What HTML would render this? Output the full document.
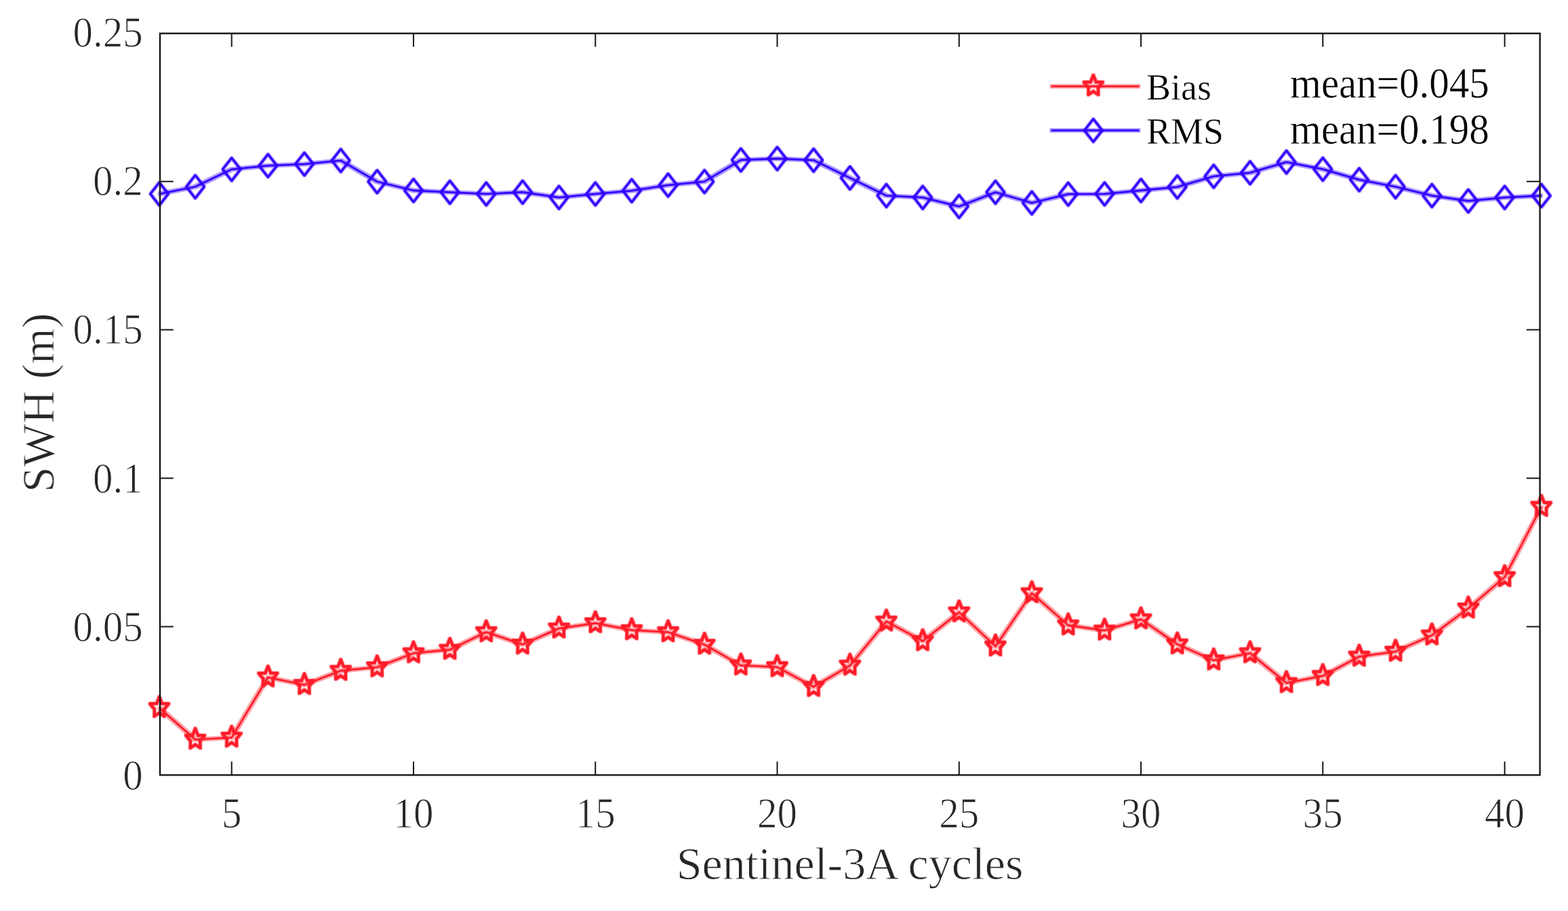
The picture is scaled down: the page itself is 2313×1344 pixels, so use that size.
<!DOCTYPE html>
<html><head><meta charset="utf-8"><title>SWH Bias and RMS vs Sentinel-3A cycles</title><style>
html,body{margin:0;padding:0;background:#fff;}
body{width:2313px;height:1344px;overflow:hidden;}
svg{display:block;}
text{font-family:"Liberation Serif","Times New Roman",serif;}
.ax{stroke:#fff;stroke-width:0.9px;}
.lg{stroke:#fff;stroke-width:0.5px;}
</style></head><body>
<svg width="2313" height="1344" viewBox="0 0 2313 1344">
<defs>
<filter id="soft" x="-5%" y="-5%" width="110%" height="110%"><feGaussianBlur stdDeviation="0.55"/></filter>
<filter id="halo" x="-5%" y="-10%" width="110%" height="120%" color-interpolation-filters="sRGB"><feMorphology in="SourceGraphic" operator="dilate" radius="1.8" result="d"/><feColorMatrix in="d" type="matrix" values="1 0 0 0 0 0 1 0 0 0 0 0 1 0 0 0 0 0 0.4 0" result="dl"/><feMerge><feMergeNode in="dl"/><feMergeNode in="SourceGraphic"/></feMerge></filter>
<filter id="mhalo" x="-5%" y="-10%" width="110%" height="120%" color-interpolation-filters="sRGB"><feMorphology in="SourceGraphic" operator="dilate" radius="0.8" result="d"/><feColorMatrix in="d" type="matrix" values="1 0 0 0 0 0 1 0 0 0 0 0 1 0 0 0 0 0 0.4 0" result="dl"/><feMerge><feMergeNode in="dl"/><feMergeNode in="SourceGraphic"/></feMerge></filter>
</defs>
<rect x="0" y="0" width="2313" height="1344" fill="#fff"/>
<g filter="url(#soft)">
<g filter="url(#halo)">
<path d="M235.00,1044.40 L288.05,1091.10 L341.71,1088.10 L395.36,999.30 L449.02,1010.40 L502.67,989.50 L556.32,984.40 L609.98,963.70 L663.63,958.50 L717.29,932.60 L770.94,950.80 L824.59,927.10 L878.25,919.30 L931.90,929.70 L985.56,932.70 L1039.21,951.00 L1092.86,981.60 L1146.52,984.20 L1200.17,1013.30 L1253.83,981.90 L1307.48,916.80 L1361.13,945.80 L1414.79,903.30 L1468.44,953.60 L1522.10,875.10 L1575.75,922.50 L1629.40,930.10 L1683.06,913.60 L1736.71,950.50 L1790.37,974.20 L1844.02,963.70 L1897.67,1007.60 L1951.33,997.20 L2004.98,968.70 L2058.64,961.30 L2112.29,937.30 L2165.94,897.70 L2219.60,851.30 L2273.80,747.70" fill="none" stroke="#ff1f29" stroke-width="2.8" stroke-linejoin="round"/>
<path d="M235.00,286.10 L288.05,275.50 L341.71,249.80 L395.36,244.40 L449.02,242.10 L502.67,236.80 L556.32,268.00 L609.98,281.00 L663.63,283.60 L717.29,286.20 L770.94,283.50 L824.59,291.30 L878.25,286.20 L931.90,281.30 L985.56,273.20 L1039.21,267.90 L1092.86,236.00 L1146.52,234.00 L1200.17,236.30 L1253.83,262.50 L1307.48,288.60 L1361.13,291.30 L1414.79,304.60 L1468.44,283.60 L1522.10,299.40 L1575.75,286.30 L1629.40,286.10 L1683.06,281.00 L1736.71,275.80 L1790.37,260.20 L1844.02,254.90 L1897.67,239.20 L1951.33,249.60 L2004.98,265.10 L2058.64,275.50 L2112.29,288.70 L2165.94,296.50 L2219.60,291.30 L2273.80,288.70" fill="none" stroke="#3300ff" stroke-width="2.8" stroke-linejoin="round"/>
<path d="M1550.6,127.3 H1680.4" stroke="#ff1f29" stroke-width="2.8"/>
<path d="M1550.6,192.4 H1680.4" stroke="#3300ff" stroke-width="2.8"/>
</g>
<g filter="url(#mhalo)">
<g fill="none" stroke="#ff1f29" stroke-width="4.3" stroke-linejoin="round">
<path transform="translate(235.00,1044.40)" d="M0.00,-16.40 L4.03,-6.21 L13.89,-6.18 L7.11,2.04 L7.42,12.34 L0.00,7.40 L-7.42,12.34 L-7.11,2.04 L-13.89,-6.18 L-4.03,-6.21 Z"/>
<path transform="translate(288.05,1091.10)" d="M0.00,-16.40 L4.03,-6.21 L13.89,-6.18 L7.11,2.04 L7.42,12.34 L0.00,7.40 L-7.42,12.34 L-7.11,2.04 L-13.89,-6.18 L-4.03,-6.21 Z"/>
<path transform="translate(341.71,1088.10)" d="M0.00,-16.40 L4.03,-6.21 L13.89,-6.18 L7.11,2.04 L7.42,12.34 L0.00,7.40 L-7.42,12.34 L-7.11,2.04 L-13.89,-6.18 L-4.03,-6.21 Z"/>
<path transform="translate(395.36,999.30)" d="M0.00,-16.40 L4.03,-6.21 L13.89,-6.18 L7.11,2.04 L7.42,12.34 L0.00,7.40 L-7.42,12.34 L-7.11,2.04 L-13.89,-6.18 L-4.03,-6.21 Z"/>
<path transform="translate(449.02,1010.40)" d="M0.00,-16.40 L4.03,-6.21 L13.89,-6.18 L7.11,2.04 L7.42,12.34 L0.00,7.40 L-7.42,12.34 L-7.11,2.04 L-13.89,-6.18 L-4.03,-6.21 Z"/>
<path transform="translate(502.67,989.50)" d="M0.00,-16.40 L4.03,-6.21 L13.89,-6.18 L7.11,2.04 L7.42,12.34 L0.00,7.40 L-7.42,12.34 L-7.11,2.04 L-13.89,-6.18 L-4.03,-6.21 Z"/>
<path transform="translate(556.32,984.40)" d="M0.00,-16.40 L4.03,-6.21 L13.89,-6.18 L7.11,2.04 L7.42,12.34 L0.00,7.40 L-7.42,12.34 L-7.11,2.04 L-13.89,-6.18 L-4.03,-6.21 Z"/>
<path transform="translate(609.98,963.70)" d="M0.00,-16.40 L4.03,-6.21 L13.89,-6.18 L7.11,2.04 L7.42,12.34 L0.00,7.40 L-7.42,12.34 L-7.11,2.04 L-13.89,-6.18 L-4.03,-6.21 Z"/>
<path transform="translate(663.63,958.50)" d="M0.00,-16.40 L4.03,-6.21 L13.89,-6.18 L7.11,2.04 L7.42,12.34 L0.00,7.40 L-7.42,12.34 L-7.11,2.04 L-13.89,-6.18 L-4.03,-6.21 Z"/>
<path transform="translate(717.29,932.60)" d="M0.00,-16.40 L4.03,-6.21 L13.89,-6.18 L7.11,2.04 L7.42,12.34 L0.00,7.40 L-7.42,12.34 L-7.11,2.04 L-13.89,-6.18 L-4.03,-6.21 Z"/>
<path transform="translate(770.94,950.80)" d="M0.00,-16.40 L4.03,-6.21 L13.89,-6.18 L7.11,2.04 L7.42,12.34 L0.00,7.40 L-7.42,12.34 L-7.11,2.04 L-13.89,-6.18 L-4.03,-6.21 Z"/>
<path transform="translate(824.59,927.10)" d="M0.00,-16.40 L4.03,-6.21 L13.89,-6.18 L7.11,2.04 L7.42,12.34 L0.00,7.40 L-7.42,12.34 L-7.11,2.04 L-13.89,-6.18 L-4.03,-6.21 Z"/>
<path transform="translate(878.25,919.30)" d="M0.00,-16.40 L4.03,-6.21 L13.89,-6.18 L7.11,2.04 L7.42,12.34 L0.00,7.40 L-7.42,12.34 L-7.11,2.04 L-13.89,-6.18 L-4.03,-6.21 Z"/>
<path transform="translate(931.90,929.70)" d="M0.00,-16.40 L4.03,-6.21 L13.89,-6.18 L7.11,2.04 L7.42,12.34 L0.00,7.40 L-7.42,12.34 L-7.11,2.04 L-13.89,-6.18 L-4.03,-6.21 Z"/>
<path transform="translate(985.56,932.70)" d="M0.00,-16.40 L4.03,-6.21 L13.89,-6.18 L7.11,2.04 L7.42,12.34 L0.00,7.40 L-7.42,12.34 L-7.11,2.04 L-13.89,-6.18 L-4.03,-6.21 Z"/>
<path transform="translate(1039.21,951.00)" d="M0.00,-16.40 L4.03,-6.21 L13.89,-6.18 L7.11,2.04 L7.42,12.34 L0.00,7.40 L-7.42,12.34 L-7.11,2.04 L-13.89,-6.18 L-4.03,-6.21 Z"/>
<path transform="translate(1092.86,981.60)" d="M0.00,-16.40 L4.03,-6.21 L13.89,-6.18 L7.11,2.04 L7.42,12.34 L0.00,7.40 L-7.42,12.34 L-7.11,2.04 L-13.89,-6.18 L-4.03,-6.21 Z"/>
<path transform="translate(1146.52,984.20)" d="M0.00,-16.40 L4.03,-6.21 L13.89,-6.18 L7.11,2.04 L7.42,12.34 L0.00,7.40 L-7.42,12.34 L-7.11,2.04 L-13.89,-6.18 L-4.03,-6.21 Z"/>
<path transform="translate(1200.17,1013.30)" d="M0.00,-16.40 L4.03,-6.21 L13.89,-6.18 L7.11,2.04 L7.42,12.34 L0.00,7.40 L-7.42,12.34 L-7.11,2.04 L-13.89,-6.18 L-4.03,-6.21 Z"/>
<path transform="translate(1253.83,981.90)" d="M0.00,-16.40 L4.03,-6.21 L13.89,-6.18 L7.11,2.04 L7.42,12.34 L0.00,7.40 L-7.42,12.34 L-7.11,2.04 L-13.89,-6.18 L-4.03,-6.21 Z"/>
<path transform="translate(1307.48,916.80)" d="M0.00,-16.40 L4.03,-6.21 L13.89,-6.18 L7.11,2.04 L7.42,12.34 L0.00,7.40 L-7.42,12.34 L-7.11,2.04 L-13.89,-6.18 L-4.03,-6.21 Z"/>
<path transform="translate(1361.13,945.80)" d="M0.00,-16.40 L4.03,-6.21 L13.89,-6.18 L7.11,2.04 L7.42,12.34 L0.00,7.40 L-7.42,12.34 L-7.11,2.04 L-13.89,-6.18 L-4.03,-6.21 Z"/>
<path transform="translate(1414.79,903.30)" d="M0.00,-16.40 L4.03,-6.21 L13.89,-6.18 L7.11,2.04 L7.42,12.34 L0.00,7.40 L-7.42,12.34 L-7.11,2.04 L-13.89,-6.18 L-4.03,-6.21 Z"/>
<path transform="translate(1468.44,953.60)" d="M0.00,-16.40 L4.03,-6.21 L13.89,-6.18 L7.11,2.04 L7.42,12.34 L0.00,7.40 L-7.42,12.34 L-7.11,2.04 L-13.89,-6.18 L-4.03,-6.21 Z"/>
<path transform="translate(1522.10,875.10)" d="M0.00,-16.40 L4.03,-6.21 L13.89,-6.18 L7.11,2.04 L7.42,12.34 L0.00,7.40 L-7.42,12.34 L-7.11,2.04 L-13.89,-6.18 L-4.03,-6.21 Z"/>
<path transform="translate(1575.75,922.50)" d="M0.00,-16.40 L4.03,-6.21 L13.89,-6.18 L7.11,2.04 L7.42,12.34 L0.00,7.40 L-7.42,12.34 L-7.11,2.04 L-13.89,-6.18 L-4.03,-6.21 Z"/>
<path transform="translate(1629.40,930.10)" d="M0.00,-16.40 L4.03,-6.21 L13.89,-6.18 L7.11,2.04 L7.42,12.34 L0.00,7.40 L-7.42,12.34 L-7.11,2.04 L-13.89,-6.18 L-4.03,-6.21 Z"/>
<path transform="translate(1683.06,913.60)" d="M0.00,-16.40 L4.03,-6.21 L13.89,-6.18 L7.11,2.04 L7.42,12.34 L0.00,7.40 L-7.42,12.34 L-7.11,2.04 L-13.89,-6.18 L-4.03,-6.21 Z"/>
<path transform="translate(1736.71,950.50)" d="M0.00,-16.40 L4.03,-6.21 L13.89,-6.18 L7.11,2.04 L7.42,12.34 L0.00,7.40 L-7.42,12.34 L-7.11,2.04 L-13.89,-6.18 L-4.03,-6.21 Z"/>
<path transform="translate(1790.37,974.20)" d="M0.00,-16.40 L4.03,-6.21 L13.89,-6.18 L7.11,2.04 L7.42,12.34 L0.00,7.40 L-7.42,12.34 L-7.11,2.04 L-13.89,-6.18 L-4.03,-6.21 Z"/>
<path transform="translate(1844.02,963.70)" d="M0.00,-16.40 L4.03,-6.21 L13.89,-6.18 L7.11,2.04 L7.42,12.34 L0.00,7.40 L-7.42,12.34 L-7.11,2.04 L-13.89,-6.18 L-4.03,-6.21 Z"/>
<path transform="translate(1897.67,1007.60)" d="M0.00,-16.40 L4.03,-6.21 L13.89,-6.18 L7.11,2.04 L7.42,12.34 L0.00,7.40 L-7.42,12.34 L-7.11,2.04 L-13.89,-6.18 L-4.03,-6.21 Z"/>
<path transform="translate(1951.33,997.20)" d="M0.00,-16.40 L4.03,-6.21 L13.89,-6.18 L7.11,2.04 L7.42,12.34 L0.00,7.40 L-7.42,12.34 L-7.11,2.04 L-13.89,-6.18 L-4.03,-6.21 Z"/>
<path transform="translate(2004.98,968.70)" d="M0.00,-16.40 L4.03,-6.21 L13.89,-6.18 L7.11,2.04 L7.42,12.34 L0.00,7.40 L-7.42,12.34 L-7.11,2.04 L-13.89,-6.18 L-4.03,-6.21 Z"/>
<path transform="translate(2058.64,961.30)" d="M0.00,-16.40 L4.03,-6.21 L13.89,-6.18 L7.11,2.04 L7.42,12.34 L0.00,7.40 L-7.42,12.34 L-7.11,2.04 L-13.89,-6.18 L-4.03,-6.21 Z"/>
<path transform="translate(2112.29,937.30)" d="M0.00,-16.40 L4.03,-6.21 L13.89,-6.18 L7.11,2.04 L7.42,12.34 L0.00,7.40 L-7.42,12.34 L-7.11,2.04 L-13.89,-6.18 L-4.03,-6.21 Z"/>
<path transform="translate(2165.94,897.70)" d="M0.00,-16.40 L4.03,-6.21 L13.89,-6.18 L7.11,2.04 L7.42,12.34 L0.00,7.40 L-7.42,12.34 L-7.11,2.04 L-13.89,-6.18 L-4.03,-6.21 Z"/>
<path transform="translate(2219.60,851.30)" d="M0.00,-16.40 L4.03,-6.21 L13.89,-6.18 L7.11,2.04 L7.42,12.34 L0.00,7.40 L-7.42,12.34 L-7.11,2.04 L-13.89,-6.18 L-4.03,-6.21 Z"/>
<path transform="translate(2273.80,747.70)" d="M0.00,-16.40 L4.03,-6.21 L13.89,-6.18 L7.11,2.04 L7.42,12.34 L0.00,7.40 L-7.42,12.34 L-7.11,2.04 L-13.89,-6.18 L-4.03,-6.21 Z"/>
<path transform="translate(1612.80,127.30)" d="M0.00,-16.40 L4.03,-6.21 L13.89,-6.18 L7.11,2.04 L7.42,12.34 L0.00,7.40 L-7.42,12.34 L-7.11,2.04 L-13.89,-6.18 L-4.03,-6.21 Z"/>
</g>
<g fill="none" stroke="#3300ff" stroke-width="3.2" stroke-linejoin="round">
<path transform="translate(235.00,286.10)" d="M0,-16.9 L13.2,0 L0,16.9 L-13.2,0 Z"/>
<path transform="translate(288.05,275.50)" d="M0,-16.9 L13.2,0 L0,16.9 L-13.2,0 Z"/>
<path transform="translate(341.71,249.80)" d="M0,-16.9 L13.2,0 L0,16.9 L-13.2,0 Z"/>
<path transform="translate(395.36,244.40)" d="M0,-16.9 L13.2,0 L0,16.9 L-13.2,0 Z"/>
<path transform="translate(449.02,242.10)" d="M0,-16.9 L13.2,0 L0,16.9 L-13.2,0 Z"/>
<path transform="translate(502.67,236.80)" d="M0,-16.9 L13.2,0 L0,16.9 L-13.2,0 Z"/>
<path transform="translate(556.32,268.00)" d="M0,-16.9 L13.2,0 L0,16.9 L-13.2,0 Z"/>
<path transform="translate(609.98,281.00)" d="M0,-16.9 L13.2,0 L0,16.9 L-13.2,0 Z"/>
<path transform="translate(663.63,283.60)" d="M0,-16.9 L13.2,0 L0,16.9 L-13.2,0 Z"/>
<path transform="translate(717.29,286.20)" d="M0,-16.9 L13.2,0 L0,16.9 L-13.2,0 Z"/>
<path transform="translate(770.94,283.50)" d="M0,-16.9 L13.2,0 L0,16.9 L-13.2,0 Z"/>
<path transform="translate(824.59,291.30)" d="M0,-16.9 L13.2,0 L0,16.9 L-13.2,0 Z"/>
<path transform="translate(878.25,286.20)" d="M0,-16.9 L13.2,0 L0,16.9 L-13.2,0 Z"/>
<path transform="translate(931.90,281.30)" d="M0,-16.9 L13.2,0 L0,16.9 L-13.2,0 Z"/>
<path transform="translate(985.56,273.20)" d="M0,-16.9 L13.2,0 L0,16.9 L-13.2,0 Z"/>
<path transform="translate(1039.21,267.90)" d="M0,-16.9 L13.2,0 L0,16.9 L-13.2,0 Z"/>
<path transform="translate(1092.86,236.00)" d="M0,-16.9 L13.2,0 L0,16.9 L-13.2,0 Z"/>
<path transform="translate(1146.52,234.00)" d="M0,-16.9 L13.2,0 L0,16.9 L-13.2,0 Z"/>
<path transform="translate(1200.17,236.30)" d="M0,-16.9 L13.2,0 L0,16.9 L-13.2,0 Z"/>
<path transform="translate(1253.83,262.50)" d="M0,-16.9 L13.2,0 L0,16.9 L-13.2,0 Z"/>
<path transform="translate(1307.48,288.60)" d="M0,-16.9 L13.2,0 L0,16.9 L-13.2,0 Z"/>
<path transform="translate(1361.13,291.30)" d="M0,-16.9 L13.2,0 L0,16.9 L-13.2,0 Z"/>
<path transform="translate(1414.79,304.60)" d="M0,-16.9 L13.2,0 L0,16.9 L-13.2,0 Z"/>
<path transform="translate(1468.44,283.60)" d="M0,-16.9 L13.2,0 L0,16.9 L-13.2,0 Z"/>
<path transform="translate(1522.10,299.40)" d="M0,-16.9 L13.2,0 L0,16.9 L-13.2,0 Z"/>
<path transform="translate(1575.75,286.30)" d="M0,-16.9 L13.2,0 L0,16.9 L-13.2,0 Z"/>
<path transform="translate(1629.40,286.10)" d="M0,-16.9 L13.2,0 L0,16.9 L-13.2,0 Z"/>
<path transform="translate(1683.06,281.00)" d="M0,-16.9 L13.2,0 L0,16.9 L-13.2,0 Z"/>
<path transform="translate(1736.71,275.80)" d="M0,-16.9 L13.2,0 L0,16.9 L-13.2,0 Z"/>
<path transform="translate(1790.37,260.20)" d="M0,-16.9 L13.2,0 L0,16.9 L-13.2,0 Z"/>
<path transform="translate(1844.02,254.90)" d="M0,-16.9 L13.2,0 L0,16.9 L-13.2,0 Z"/>
<path transform="translate(1897.67,239.20)" d="M0,-16.9 L13.2,0 L0,16.9 L-13.2,0 Z"/>
<path transform="translate(1951.33,249.60)" d="M0,-16.9 L13.2,0 L0,16.9 L-13.2,0 Z"/>
<path transform="translate(2004.98,265.10)" d="M0,-16.9 L13.2,0 L0,16.9 L-13.2,0 Z"/>
<path transform="translate(2058.64,275.50)" d="M0,-16.9 L13.2,0 L0,16.9 L-13.2,0 Z"/>
<path transform="translate(2112.29,288.70)" d="M0,-16.9 L13.2,0 L0,16.9 L-13.2,0 Z"/>
<path transform="translate(2165.94,296.50)" d="M0,-16.9 L13.2,0 L0,16.9 L-13.2,0 Z"/>
<path transform="translate(2219.60,291.30)" d="M0,-16.9 L13.2,0 L0,16.9 L-13.2,0 Z"/>
<path transform="translate(2273.80,288.70)" d="M0,-16.9 L13.2,0 L0,16.9 L-13.2,0 Z"/>
<path transform="translate(1612.80,192.40)" d="M0,-16.9 L13.2,0 L0,16.9 L-13.2,0 Z"/>
</g>
</g>
<path d="M341.71,1143.4 V1123.60 M341.71,49.3 V69.10 M609.98,1143.4 V1123.60 M609.98,49.3 V69.10 M878.25,1143.4 V1123.60 M878.25,49.3 V69.10 M1146.52,1143.4 V1123.60 M1146.52,49.3 V69.10 M1414.79,1143.4 V1123.60 M1414.79,49.3 V69.10 M1683.06,1143.4 V1123.60 M1683.06,49.3 V69.10 M1951.33,1143.4 V1123.60 M1951.33,49.3 V69.10 M2219.60,1143.4 V1123.60 M2219.60,49.3 V69.10 M236.0,924.47 H255.80 M2271.6,924.47 H2251.80 M236.0,705.53 H255.80 M2271.6,705.53 H2251.80 M236.0,486.60 H255.80 M2271.6,486.60 H2251.80 M236.0,267.66 H255.80 M2271.6,267.66 H2251.80" stroke="#171717" stroke-width="2.0" fill="none"/>
<rect x="236.0" y="49.3" width="2035.60" height="1094.10" fill="none" stroke="#171717" stroke-width="2.4"/>
<text transform="translate(341.71,1220.8) scale(1,1.075)" font-size="59" fill="#262626" class="ax" text-anchor="middle">5</text>
<text transform="translate(609.98,1220.8) scale(1,1.075)" font-size="59" fill="#262626" class="ax" text-anchor="middle">10</text>
<text transform="translate(878.25,1220.8) scale(1,1.075)" font-size="59" fill="#262626" class="ax" text-anchor="middle">15</text>
<text transform="translate(1146.52,1220.8) scale(1,1.075)" font-size="59" fill="#262626" class="ax" text-anchor="middle">20</text>
<text transform="translate(1414.79,1220.8) scale(1,1.075)" font-size="59" fill="#262626" class="ax" text-anchor="middle">25</text>
<text transform="translate(1683.06,1220.8) scale(1,1.075)" font-size="59" fill="#262626" class="ax" text-anchor="middle">30</text>
<text transform="translate(1951.33,1220.8) scale(1,1.075)" font-size="59" fill="#262626" class="ax" text-anchor="middle">35</text>
<text transform="translate(2219.60,1220.8) scale(1,1.075)" font-size="59" fill="#262626" class="ax" text-anchor="middle">40</text>
<text transform="translate(210.8,1164.95) scale(1,1.075)" font-size="59" fill="#262626" class="ax" text-anchor="end">0</text>
<text transform="translate(210.8,945.77) scale(1,1.075)" font-size="59" fill="#262626" class="ax" text-anchor="end">0.05</text>
<text transform="translate(210.8,726.58) scale(1,1.075)" font-size="59" fill="#262626" class="ax" text-anchor="end">0.1</text>
<text transform="translate(210.8,507.40) scale(1,1.075)" font-size="59" fill="#262626" class="ax" text-anchor="end">0.15</text>
<text transform="translate(210.8,288.21) scale(1,1.075)" font-size="59" fill="#262626" class="ax" text-anchor="end">0.2</text>
<text transform="translate(210.8,69.03) scale(1,1.075)" font-size="59" fill="#262626" class="ax" text-anchor="end">0.25</text>
<text x="1253.6" y="1297" font-size="68" fill="#262626" class="ax" text-anchor="middle">Sentinel-3A cycles</text>
<text transform="translate(79.3,594) rotate(-90)" x="0" y="0" font-size="67.5" fill="#262626" class="ax" text-anchor="middle">SWH (m)</text>
<text x="1691" y="146.8" font-size="54" fill="#000" class="lg">Bias</text>
<text x="1691" y="211.6" font-size="54" fill="#000" class="lg">RMS</text>
<text transform="translate(1903,144.3) scale(1,1.06)" font-size="59" fill="#000" class="lg">mean=0.045</text>
<text transform="translate(1903,212.3) scale(1,1.06)" font-size="59" fill="#000" class="lg">mean=0.198</text>
</g></svg></body></html>
